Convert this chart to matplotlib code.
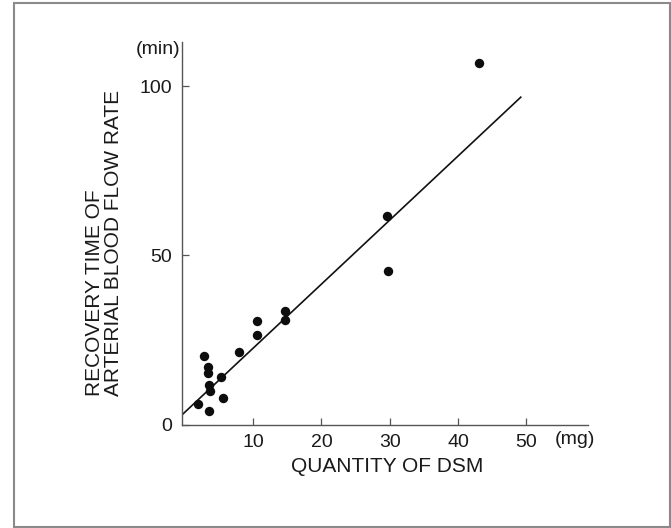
import matplotlib
matplotlib.use("Agg")
import matplotlib.pyplot as plt
from matplotlib.patches import Rectangle

# Data
dsm_mg = [43.1, 29.6, 29.8, 14.65, 14.65, 10.6, 10.6, 7.85, 2.8, 3.4, 3.4,
          5.35, 3.55, 3.65, 5.6, 1.9, 3.5]
recovery_min = [106.8, 61.7, 45.3, 33.6, 31.0, 30.7, 26.4, 21.3, 20.2, 17.0, 15.3,
                14.0, 11.8, 9.9, 7.8, 6.0, 3.9]
fit_x = [-0.45, 49.2]
fit_y = [2.8, 96.7]
xticks = [10, 20, 30, 40, 50]
yticks = [0, 50, 100]

plt.rcParams['font.family'] = ['Liberation Sans', 'DejaVu Sans']

W, H = 671, 528
fig = plt.figure(figsize=(W / 100, H / 100), dpi=100)

# outer frame
fig.patches.append(Rectangle((14 / W, 1 - 527 / H), (670 - 14) / W, (527 - 2.5) / H,
                             transform=fig.transFigure, fill=False,
                             edgecolor='#8a8a8a', linewidth=1.5))

ax = fig.add_axes([181.5 / W, 1 - 424.5 / H, (587.7 - 181.5) / W, (424.5 - 42) / H])
ax.set_xlim(-0.5, 59)
ax.set_ylim(0, 113)

ax.plot(fit_x, fit_y, color='#111111', linewidth=1.2)
ax.scatter(dsm_mg, recovery_min, s=46, color='#0d0d0d', zorder=3, linewidths=0)

for s in ['top', 'right']:
    ax.spines[s].set_visible(False)
for s in ['left', 'bottom']:
    ax.spines[s].set_color('#555555')
    ax.spines[s].set_linewidth(1.0)

ax.set_xticks(xticks)
ax.set_yticks(yticks)
ax.tick_params(direction='in', length=5, width=0.9, color='#555555',
               labelsize=14, pad=7, labelcolor='#1a1a1a')

ax.text((555 - 181.5) / (587.7 - 181.5), -(440 - 424.5) / 382.5, '(mg)',
        transform=ax.transAxes, fontsize=14, ha='left', va='center', color='#1a1a1a')
ax.text(-0.004, 1 - 8 / 382.5, '(min)', transform=ax.transAxes, fontsize=14,
        ha='right', va='center', color='#1a1a1a')

fig.text(387 / W, 1 - 467 / H, 'QUANTITY OF DSM', fontsize=15,
         ha='center', va='center', color='#1a1a1a')

fig.text(104 / W, 1 - 396 / H, 'RECOVERY TIME OF\nARTERIAL BLOOD FLOW RATE',
         rotation=90, fontsize=15, ha='center', va='bottom',
         multialignment='left', linespacing=1.0, color='#1a1a1a')

fig.savefig('out.png', dpi=100)
